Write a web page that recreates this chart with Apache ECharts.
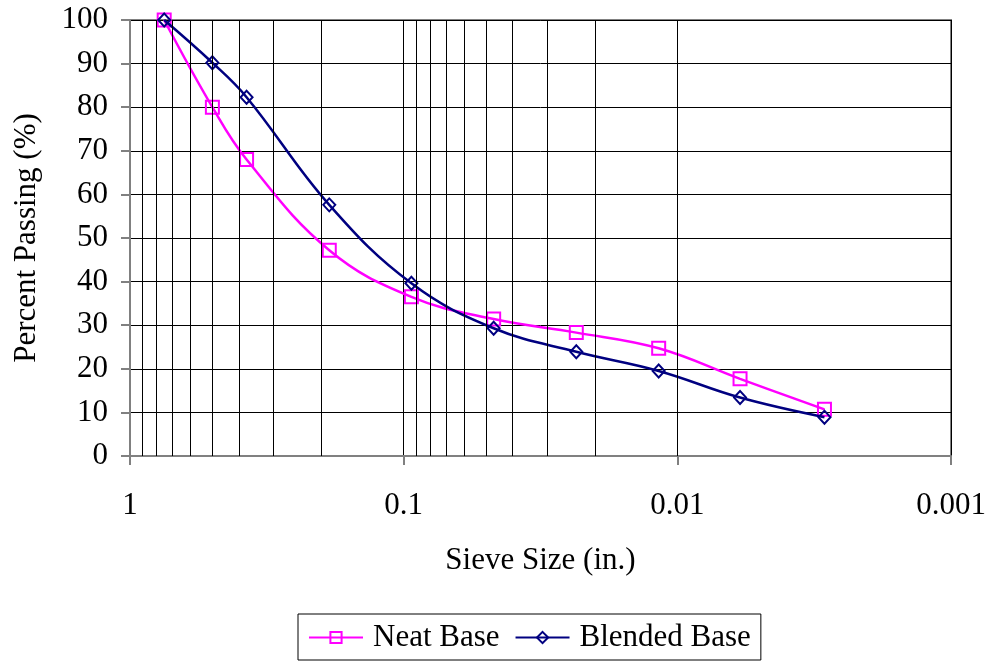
<!DOCTYPE html>
<html>
<head>
<meta charset="utf-8">
<script src="https://cdn.jsdelivr.net/npm/echarts@6/dist/echarts.min.js"></script>
<style>
  html, body { margin: 0; padding: 0; background: #fff; }
  #chart { width: 990px; height: 661px; }
</style>
</head>
<body>
<div id="chart"></div>
<script>
// Sieve openings (in.) and percent passing for each base material
var sieveSizes = [0.75, 0.5, 0.375, 0.187, 0.0937, 0.0469, 0.0234, 0.0117, 0.0059, 0.0029];
var neatBase = [100, 80, 68, 47.2, 36.5, 31.4, 28.3, 24.7, 17.7, 10.7];
var blendedBase = [100, 90.2, 82.3, 57.6, 39.6, 29.3, 23.9, 19.5, 13.4, 8.9];
var seriesNames = ['Neat Base', 'Blended Base'];
var xTickLabels = ['1', '0.1', '0.01', '0.001'];
var yTicks = [0, 10, 20, 30, 40, 50, 60, 70, 80, 90, 100];

// Log-cycle grid lines at 2..9 within each decade
var decades = [0.1, 0.01, 0.001];
var minorMultipliers = [2, 3, 4, 5, 6, 7, 8, 9];
var minorGrid = [];
decades.forEach(function (d) {
  minorMultipliers.forEach(function (m) { minorGrid.push(+(d * m).toPrecision(3)); });
});

function pairs(ys) {
  return sieveSizes.map(function (x, i) { return [x, ys[i]]; });
}

var font = 'Liberation Serif, Times New Roman, serif';
var fs = 31;
var chart = echarts.init(document.getElementById('chart'), null, { renderer: 'canvas' });

chart.setOption({
  animation: false,
  textStyle: { fontFamily: font },
  grid: {
    left: 130, right: 39, top: 20, bottom: 205,
    show: true, borderColor: '#808080', borderWidth: 2, backgroundColor: 'transparent'
  },
  legend: {
    data: seriesNames,
    bottom: 1,
    left: 298,
    itemWidth: 54,
    itemHeight: 14,
    itemGap: 15,
    padding: [8, 10, 7, 10],
    borderColor: '#000',
    borderWidth: 1,
    textStyle: { fontFamily: font, fontSize: fs, color: '#000', padding: [0, 0, 0, 5] }
  },
  xAxis: {
    type: 'log',
    logBase: 10,
    min: 0.001,
    max: 1,
    inverse: true,
    name: 'Sieve Size (in.)',
    nameLocation: 'middle',
    nameGap: 89,
    nameTextStyle: { fontFamily: font, fontSize: fs, color: '#000' },
    axisLine: { lineStyle: { color: '#808080', width: 2 } },
    axisTick: { show: true, length: 9, lineStyle: { color: '#808080', width: 2 } },
    axisLabel: {
      margin: 34, fontFamily: font, fontSize: fs, color: '#000',
      formatter: function (v) {
        var idx = Math.round(-Math.log10(v));
        return xTickLabels[idx] !== undefined ? xTickLabels[idx] : '';
      }
    },
    splitLine: { show: true, lineStyle: { color: '#000', width: 1 } }
  },
  yAxis: {
    type: 'value',
    min: yTicks[0],
    max: yTicks[yTicks.length - 1],
    interval: 10,
    name: 'Percent Passing (%)',
    nameLocation: 'middle',
    nameGap: 88,
    nameRotate: 90,
    nameTextStyle: { fontFamily: font, fontSize: fs, color: '#000' },
    axisLine: { show: true, lineStyle: { color: '#808080', width: 2 } },
    axisTick: { show: true, length: 9, lineStyle: { color: '#808080', width: 2 } },
    axisLabel: { margin: 22, fontFamily: font, fontSize: fs, color: '#000' },
    splitLine: { show: true, lineStyle: { color: '#000', width: 1 } }
  },
  series: [
    {
      name: 'minor-grid',
      type: 'line',
      data: [],
      z: 1,
      silent: true,
      markLine: {
        silent: true,
        symbol: ['none', 'none'],
        label: { show: false },
        lineStyle: { color: '#000', width: 1, type: 'solid' },
        emphasis: { disabled: true },
        data: minorGrid.map(function (v) { return { xAxis: v }; })
      }
    },
    {
      name: seriesNames[0],
      type: 'line',
      data: pairs(neatBase),
      smooth: 0.4,
      z: 3,
      symbol: 'rect',
      symbolSize: 13,
      lineStyle: { color: '#FF00FF', width: 2.5 },
      itemStyle: { color: 'rgba(255,255,255,0)', borderColor: '#FF00FF', borderWidth: 2 }
    },
    {
      name: seriesNames[1],
      type: 'line',
      data: pairs(blendedBase),
      smooth: 0.4,
      z: 4,
      symbol: 'diamond',
      symbolSize: [12, 13],
      lineStyle: { color: '#000080', width: 2.5 },
      itemStyle: { color: 'rgba(255,255,255,0)', borderColor: '#000080', borderWidth: 2 }
    }
  ]
});
</script>
</body>
</html>
